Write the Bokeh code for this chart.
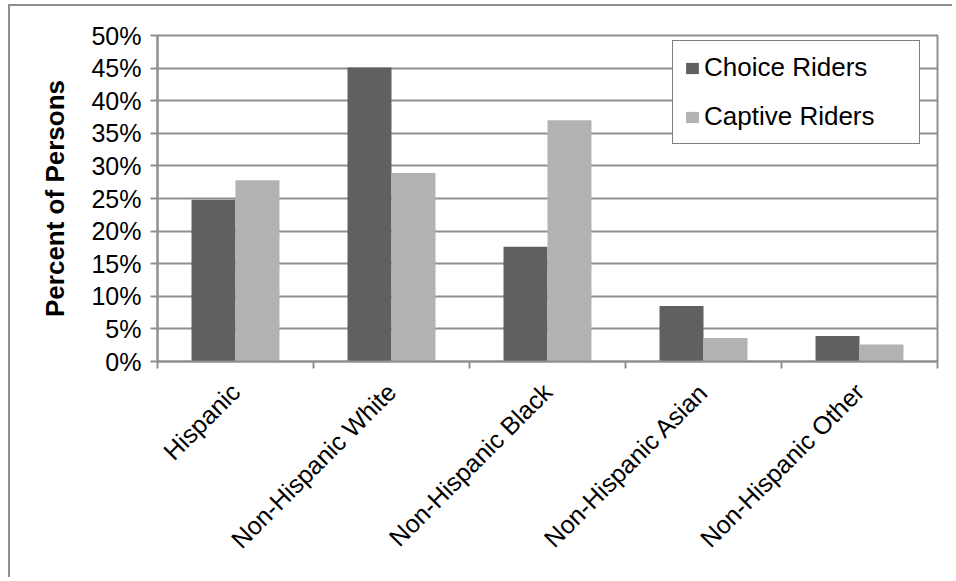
from bokeh.plotting import figure
from bokeh.models import Range1d, FixedTicker, PrintfTickFormatter, Legend, LegendItem, ColumnDataSource, InlineStyleSheet
from bokeh.transform import dodge
from bokeh.embed import file_html
from bokeh.resources import INLINE
import math

categories = ["Hispanic", "Non-Hispanic White", "Non-Hispanic Black", "Non-Hispanic Asian", "Non-Hispanic Other"]
choice_riders = [24.8, 45.1, 17.6, 8.5, 3.9]
captive_riders = [27.8, 28.9, 37.0, 3.6, 2.6]
y_ticks = [0, 5, 10, 15, 20, 25, 30, 35, 40, 45, 50]

FONT = "Liberation Sans"
GRID = "#8f8f8f"

pos = [i + 0.5 for i in range(len(categories))]
src = ColumnDataSource(dict(x=pos, choice=choice_riders, captive=captive_riders))

p = figure(width=944, height=573, output_backend="svg", toolbar_location=None,
           x_range=Range1d(0, len(categories)), y_range=Range1d(0, 50),
           min_border_left=147, min_border_right=17, min_border_top=29, min_border_bottom=218)
p.stylesheets = [InlineStyleSheet(css=":host { margin: 6px 0 0 10px; box-shadow: -2px -2px 0 0 #8f8f8f; }")]

r1 = p.vbar(x=dodge("x", -0.141, range=p.x_range), top="choice", width=0.282, source=src,
            fill_color="#606060", line_color=None)
r2 = p.vbar(x=dodge("x", 0.141, range=p.x_range), top="captive", width=0.282, source=src,
            fill_color="#b2b2b2", line_color=None)

# axes
p.xaxis.ticker = FixedTicker(ticks=pos, minor_ticks=[float(i) for i in range(len(categories) + 1)])
p.xaxis.major_label_overrides = {pos[i]: c for i, c in enumerate(categories)}
p.xaxis.major_tick_out = 0
p.xaxis.major_tick_in = 0
p.xaxis.minor_tick_out = 7
p.xaxis.minor_tick_in = 0
p.xaxis.minor_tick_line_color = GRID
p.xaxis.minor_tick_line_width = 2
p.xaxis.axis_line_color = GRID
p.xaxis.axis_line_width = 2
p.xaxis.major_label_orientation = math.pi / 4
p.xaxis.major_label_standoff = 19
p.xaxis.major_label_text_font = FONT
p.xaxis.major_label_text_font_size = "25px"
p.xaxis.major_label_text_color = "black"

p.yaxis.ticker = FixedTicker(ticks=y_ticks)
p.yaxis.formatter = PrintfTickFormatter(format="%d%%")
p.yaxis.major_tick_out = 7
p.yaxis.major_tick_in = 0
p.yaxis.minor_tick_line_color = None
p.yaxis.major_tick_line_color = GRID
p.yaxis.major_tick_line_width = 2
p.yaxis.axis_line_color = GRID
p.yaxis.axis_line_width = 2
p.yaxis.major_label_standoff = 9
p.yaxis.major_label_text_font = FONT
p.yaxis.major_label_text_font_size = "25px"
p.yaxis.major_label_text_color = "black"
p.yaxis.axis_label = "Percent of Persons"
p.yaxis.axis_label_text_font = FONT
p.yaxis.axis_label_text_font_size = "26px"
p.yaxis.axis_label_text_font_style = "bold"
p.yaxis.axis_label_text_color = "black"
p.yaxis.axis_label_standoff = 18

p.xgrid.grid_line_color = None
p.ygrid.grid_line_color = GRID
p.ygrid.grid_line_width = 2
p.outline_line_color = GRID
p.outline_line_width = 2

legend = Legend(items=[LegendItem(label="Choice Riders", renderers=[r1]),
                       LegendItem(label="Captive Riders", renderers=[r2])],
                location=(515, 217))
legend.border_line_color = "black"
legend.border_line_width = 1.5
legend.background_fill_color = "white"
legend.background_fill_alpha = 1
legend.padding = 11
legend.spacing = 18
legend.margin = 0
legend.glyph_width = 16
legend.glyph_height = 14
legend.label_standoff = 4
legend.label_width = 204
legend.label_text_font = FONT
legend.label_text_font_size = "26px"
legend.label_text_color = "black"
p.add_layout(legend)

open("out.html", "w").write(file_html(p, INLINE))
